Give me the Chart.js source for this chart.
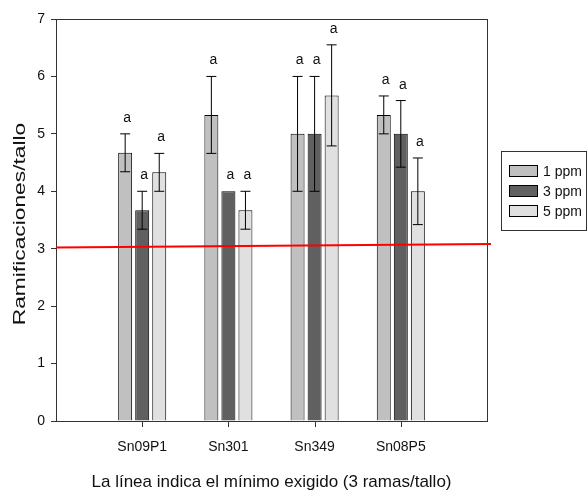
<!DOCTYPE html>
<html>
<head>
<meta charset="utf-8">
<script src="https://cdn.jsdelivr.net/npm/chart.js@4"></script>
<style>
  html, body { margin: 0; padding: 0; background: #fff; }
  #wrap { width: 588px; height: 496px; }
</style>
</head>
<body>
<div id="wrap"><canvas id="chart" width="588" height="496"></canvas></div>
<script>
// data
const categories = ["", "Sn09P1", "Sn301", "Sn349", "Sn08P5", ""];
const seriesNames = ["1 ppm", "3 ppm", "5 ppm"];
const ppm1 = [null, 4.67, 5.33, 5.0, 5.33, null];
const ppm1Err = [null, 0.33, 0.67, 1.0, 0.33, null];
const ppm3 = [null, 3.67, 4.0, 5.0, 5.0, null];
const ppm3Err = [null, 0.33, 0, 1.0, 0.58, null];
const ppm5 = [null, 4.33, 3.67, 5.67, 4.0, null];
const ppm5Err = [null, 0.33, 0.33, 0.88, 0.58, null];
const letters = [null, "a", "a", "a", "a", null];
const yTicks = [0, 1, 2, 3, 4, 5, 6, 7];
const minLine = [3.02, 3.08]; // red line, left end and right end
const yTitle = "Ramificaciones/tallo";

const FONT = "'Liberation Sans', Arial, sans-serif";
const fills = ["#c0c0c0", "#606060", "#e0e0e0"];
const errs = [ppm1Err, ppm3Err, ppm5Err];

const extras = {
  id: "extras",
  afterDraw(chart) {
    const { ctx, chartArea: a, scales: { x, y } } = chart;
    ctx.save();
    // error bars + letters
    chart.data.datasets.forEach((ds, i) => {
      const meta = chart.getDatasetMeta(i);
      meta.data.forEach((bar, j) => {
        const v = ds.data[j];
        if (v == null) return;
        const e = errs[i][j];
        const cx = bar.x;
        let top = y.getPixelForValue(v);
        if (e > 0) {
          const hi = y.getPixelForValue(v + e), lo = y.getPixelForValue(v - e);
          ctx.strokeStyle = "#000";
          ctx.lineWidth = 1;
          ctx.beginPath();
          ctx.moveTo(cx, hi); ctx.lineTo(cx, lo);
          ctx.moveTo(cx - 5, hi); ctx.lineTo(cx + 5, hi);
          ctx.moveTo(cx - 5, lo); ctx.lineTo(cx + 5, lo);
          ctx.stroke();
          top = hi;
        }
        ctx.fillStyle = "#111";
        ctx.font = "14px " + FONT;
        ctx.textAlign = "center";
        ctx.textBaseline = "alphabetic";
        ctx.fillText(letters[j], cx + 2, top - 12);
      });
    });
    // box round the plot
    ctx.strokeStyle = "#333";
    ctx.lineWidth = 1;
    ctx.strokeRect(Math.round(a.left) + 0.5, Math.round(a.top) + 0.5, Math.round(a.right - a.left), Math.round(a.bottom - a.top));
    // category tick marks (only under named groups)
    ctx.fillStyle = "#333";
    categories.forEach((c, j) => {
      if (!c) return;
      const px = Math.round(x.getPixelForValue(j));
      ctx.fillRect(px, Math.round(a.bottom), 1, 6);
    });
    // minimum line
    ctx.strokeStyle = "#ff0000";
    ctx.lineWidth = 2;
    ctx.beginPath();
    ctx.moveTo(a.left, y.getPixelForValue(minLine[0]));
    ctx.lineTo(a.right + 4, y.getPixelForValue(minLine[1]));
    ctx.stroke();
    // y title (stretched along its length like the original)
    ctx.save();
    ctx.translate(25, (a.top + a.bottom) / 2 + 4);
    ctx.rotate(-Math.PI / 2);
    ctx.scale(1.34, 1);
    ctx.fillStyle = "#111";
    ctx.font = "17px " + FONT;
    ctx.textAlign = "center";
    ctx.textBaseline = "alphabetic";
    ctx.fillText(yTitle, 0, 0);
    ctx.restore();
    // legend
    const lx = 501, ly = 151;
    ctx.strokeStyle = "#333";
    ctx.lineWidth = 1;
    ctx.strokeRect(lx + 0.5, ly + 0.5, 85, 79);
    seriesNames.forEach((name, i) => {
      const ry = ly + 20 + i * 20;
      ctx.fillStyle = fills[i];
      ctx.fillRect(lx + 8, ry - 5.5, 28, 11);
      ctx.strokeStyle = "#000";
      ctx.strokeRect(lx + 8.5, ry - 5.5, 28, 11);
      ctx.fillStyle = "#111";
      ctx.font = "14px " + FONT;
      ctx.textAlign = "left";
      ctx.textBaseline = "middle";
      ctx.fillText(name, lx + 42, ry + 1);
    });
    ctx.restore();
  }
};

const data = [ppm1, ppm3, ppm5];
new Chart(document.getElementById("chart"), {
  type: "bar",
  data: {
    labels: categories,
    datasets: seriesNames.map((n, i) => ({
      label: n,
      data: data[i],
      backgroundColor: fills[i],
      borderColor: "#000",
      borderWidth: 1,
      categoryPercentage: 0.593,
      barPercentage: 0.82
    }))
  },
  plugins: [extras],
  options: {
    responsive: false,
    animation: false,
    layout: { padding: { top: 19, right: 101, left: 0, bottom: 0 } },
    plugins: { legend: { display: false }, tooltip: { enabled: false } },
    scales: {
      x: {
        offset: false,
        grid: { offset: false, drawOnChartArea: false, drawTicks: false, tickLength: 5 },
        border: { color: "#333", width: 1 },
        ticks: { color: "#111", font: { family: FONT, size: 14 }, padding: 18, maxRotation: 0, autoSkip: false },
        title: {
          display: true,
          text: "La línea indica el mínimo exigido (3 ramas/tallo)",
          color: "#111",
          font: { family: FONT, size: 17 },
          padding: { top: 0, bottom: 3 }
        },
        afterFit: s => { s.height = 75; }
      },
      y: {
        min: 0, max: 7,
        afterBuildTicks: s => { s.ticks = yTicks.map(v => ({ value: v })); },
        grid: { drawOnChartArea: false, tickLength: 5, color: "#333" },
        border: { color: "#333", width: 1 },
        ticks: { color: "#111", font: { family: FONT, size: 14 }, padding: 6 },
        afterFit: s => { s.width = 56; }
      }
    }
  }
});
</script>
</body>
</html>
